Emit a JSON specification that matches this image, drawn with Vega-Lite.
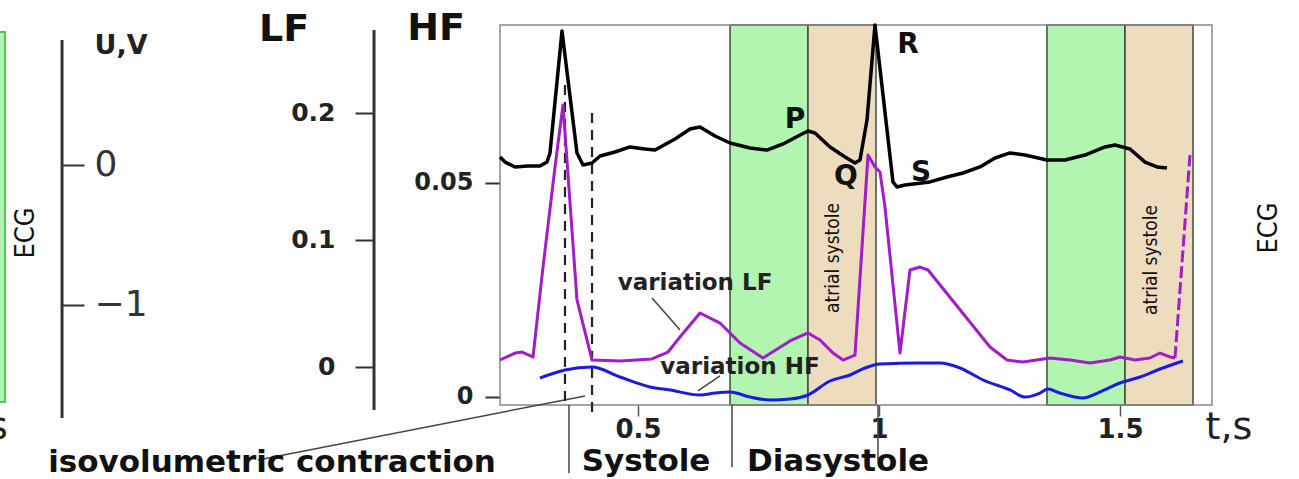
{
  "$schema": "https://vega.github.io/schema/vega-lite/v6.json",
  "width": 1299,
  "height": 479,
  "autosize": {"type": "none"},
  "padding": 0,
  "background": "white",
  "config": {"view": {"stroke": null}, "axis": {"grid": false, "domain": false}},
  "datasets": {
    "ecg": [
      {"t":0.2137,"v":0.057},{"t":0.2241,"v":0.021},{"t":0.2448,"v":-0.014},{"t":0.2718,"v":-0.007},{"t":0.2967,"v":-0.007},{"t":0.3112,"v":0.021},{"t":0.3174,"v":0.086},{"t":0.3423,"v":0.957},{"t":0.3734,"v":0.086},{"t":0.3859,"v":0.0},{"t":0.4046,"v":0.014},{"t":0.4212,"v":0.064},{"t":0.4523,"v":0.093},{"t":0.4834,"v":0.129},{"t":0.5145,"v":0.114},{"t":0.5353,"v":0.107},{"t":0.5768,"v":0.186},{"t":0.6079,"v":0.257},{"t":0.6286,"v":0.271},{"t":0.6598,"v":0.207},{"t":0.6909,"v":0.157},{"t":0.7324,"v":0.121},{"t":0.7676,"v":0.107},{"t":0.805,"v":0.157},{"t":0.8361,"v":0.214},{"t":0.8527,"v":0.243},{"t":0.8672,"v":0.229},{"t":0.8983,"v":0.129},{"t":0.9295,"v":0.057},{"t":0.9502,"v":0.014},{"t":0.9606,"v":0.036},{"t":0.9751,"v":0.321},{"t":0.9917,"v":1.0},{"t":1.029,"v":-0.121},{"t":1.0373,"v":-0.157},{"t":1.0539,"v":-0.143},{"t":1.1058,"v":-0.121},{"t":1.1411,"v":-0.086},{"t":1.1743,"v":-0.057},{"t":1.2095,"v":-0.014},{"t":1.2407,"v":0.05},{"t":1.2718,"v":0.086},{"t":1.3029,"v":0.071},{"t":1.3485,"v":0.036},{"t":1.3859,"v":0.036},{"t":1.4274,"v":0.071},{"t":1.4689,"v":0.129},{"t":1.4896,"v":0.143},{"t":1.5207,"v":0.114},{"t":1.5519,"v":0.021},{"t":1.5768,"v":-0.014},{"t":1.5975,"v":-0.021}
    ],
    "lf": [
      {"t":0.2137,"lf":0.0055},{"t":0.2448,"lf":0.011},{"t":0.2593,"lf":0.0118},{"t":0.2822,"lf":0.0079},{"t":0.3029,"lf":0.0787},{"t":0.3278,"lf":0.1575},{"t":0.3444,"lf":0.2063},{"t":0.3734,"lf":0.0528},{"t":0.4046,"lf":0.0055},{"t":0.4627,"lf":0.0047},{"t":0.529,"lf":0.0063},{"t":0.5622,"lf":0.0118},{"t":0.5871,"lf":0.0236},{"t":0.6286,"lf":0.0425},{"t":0.6701,"lf":0.0346},{"t":0.7116,"lf":0.0189},{"t":0.7593,"lf":0.0071},{"t":0.8154,"lf":0.0205},{"t":0.8527,"lf":0.0268},{"t":0.8776,"lf":0.0213},{"t":0.9046,"lf":0.011},{"t":0.9253,"lf":0.0055},{"t":0.9502,"lf":0.0094},{"t":0.9772,"lf":0.1669},{"t":0.9917,"lf":0.1575},{"t":1.0021,"lf":0.1535},{"t":1.0124,"lf":0.126},{"t":1.0436,"lf":0.011},{"t":1.0643,"lf":0.0764},{"t":1.0851,"lf":0.0787},{"t":1.1017,"lf":0.0764},{"t":1.2303,"lf":0.0157},{"t":1.2656,"lf":0.0055},{"t":1.2988,"lf":0.0039},{"t":1.3548,"lf":0.0071},{"t":1.3963,"lf":0.0055},{"t":1.4378,"lf":0.0031},{"t":1.4793,"lf":0.0055},{"t":1.5,"lf":0.0079},{"t":1.5311,"lf":0.0055},{"t":1.5622,"lf":0.0071},{"t":1.583,"lf":0.011},{"t":1.6037,"lf":0.0079},{"t":1.6141,"lf":0.0071}
    ],
    "lfDashed": [{"t":1.6141,"lf":0.0071},{"t":1.6452,"lf":0.1669}],
    "hf": [
      {"t":0.2967,"hf":0.00444},{"t":0.3485,"hf":0.00631},{"t":0.4046,"hf":0.00701},{"t":0.4627,"hf":0.00467},{"t":0.5249,"hf":0.00234},{"t":0.5664,"hf":0.00164},{"t":0.6286,"hf":0.00047},{"t":0.6598,"hf":0.00093},{"t":0.6909,"hf":0.00117},{"t":0.7324,"hf":0.0},{"t":0.7739,"hf":-0.0007},{"t":0.8154,"hf":-0.00047},{"t":0.8527,"hf":0.00047},{"t":0.8983,"hf":0.00374},{"t":0.9398,"hf":0.00514},{"t":0.971,"hf":0.00678},{"t":1.0021,"hf":0.00771},{"t":1.0851,"hf":0.00794},{"t":1.1266,"hf":0.00794},{"t":1.1681,"hf":0.00678},{"t":1.2158,"hf":0.00397},{"t":1.2718,"hf":0.00164},{"t":1.3029,"hf":0.0},{"t":1.334,"hf":0.00093},{"t":1.3506,"hf":0.00187},{"t":1.3755,"hf":0.00093},{"t":1.4232,"hf":-0.00023},{"t":1.4585,"hf":0.00117},{"t":1.5,"hf":0.00327},{"t":1.5415,"hf":0.00467},{"t":1.583,"hf":0.00654},{"t":1.6307,"hf":0.00841}
    ],
    "strip": [{"t":-0.85,"t2":-0.8133,"v":0.95,"v2":-1.693}],
    "bands": [
      {"phase":"ventricular diastole","t":0.6909,"t2":0.8527,"v":1.0,"v2":-1.714},
      {"phase":"atrial systole","t":0.8527,"t2":0.9938,"v":1.0,"v2":-1.714},
      {"phase":"ventricular diastole","t":1.3485,"t2":1.5104,"v":1.0,"v2":-1.714},
      {"phase":"atrial systole","t":1.5104,"t2":1.6515,"v":1.0,"v2":-1.714}
    ],
    "frame": [{"t":0.2137,"t2":1.6909,"v":1.0,"v2":-1.714}],
    "axisLines": [
      {"name":"U,V","t":-0.695,"v":0.893,"v2":-1.807},
      {"name":"LF","t":-0.0477,"v":0.964,"v2":-1.75}
    ],
    "markers": [
      {"name":"systole","t":0.3568,"v":-1.714,"v2":-2.2},
      {"name":"diastole","t":0.695,"v":-1.714,"v2":-2.157},
      {"name":"beat","t":0.9979,"v":-1.714,"v2":-2.107}
    ],
    "dashed": [
      {"name":"start","t":0.3485,"v":0.571,"v2":-1.736},
      {"name":"end","t":0.4046,"v":0.371,"v2":-1.807}
    ],
    "pointers": [
      {"name":"isovolumetric","t":-0.2884,"t2":0.39,"v":-2.107,"v2":-1.65},
      {"name":"variation LF","t":0.529,"t2":0.5871,"v":-0.95,"v2":-1.179},
      {"name":"variation HF","t":0.6701,"t2":0.6245,"v":-1.507,"v2":-1.614}
    ],
    "uvTitle": [{"label":"U,V","t":-0.5726,"v":0.85}],
    "titles": [{"label":"LF","t":-0.2344,"v":0.964},{"label":"HF","t":0.0809,"v":0.971}],
    "waves": [
      {"label":"P","t":0.8257,"v":0.321},
      {"label":"Q","t":0.9315,"v":-0.086},
      {"label":"R","t":1.0602,"v":0.857},
      {"label":"S","t":1.0871,"v":-0.057}
    ],
    "variation": [
      {"label":"variation LF","t":0.6183,"v":-0.843},
      {"label":"variation HF","t":0.7116,"v":-1.443}
    ],
    "phases": [
      {"label":"isovolumetric contraction","t":-0.2593,"v":-2.13},
      {"label":"Systole","t":0.5166,"v":-2.125},
      {"label":"Diasystole","t":0.9149,"v":-2.125}
    ],
    "timeUnit": [
      {"label":"t,s","t":1.7261,"v":-1.879},
      {"label":"t,s","t":-0.856,"v":-1.879}
    ],
    "ecgLabels": [
      {"label":"ECG","t":-0.7697,"v":-0.486},
      {"label":"ECG","t":1.8091,"v":-0.45}
    ],
    "atrial": [
      {"label":"atrial systole","t":0.9046,"v":-0.664},
      {"label":"atrial systole","t":1.5643,"v":-0.679}
    ]
  },
  "encoding": {
    "x": {
      "field": "t",
      "type": "quantitative",
      "scale": {"domain": [-0.8237, 1.8714], "nice": false, "zero": false},
      "axis": {
        "orient": "bottom", "offset": -74, "values": [0.5, 1, 1.5], "format": ".1~f",
        "title": null, "domain": false, "grid": false,
        "tickSize": 11, "tickWidth": 1.5, "tickColor": "#555",
        "labelFont": "DejaVu Sans", "labelFontSize": 26, "labelFontWeight": "bold",
        "labelColor": "#222", "labelPadding": 0
      }
    }
  },
  "layer": [
    {
      "encoding": {
        "y": {"field": "v", "type": "quantitative", "scale": {"domain": [-2.24286, 1.17857], "nice": false, "zero": false}, "axis": null}
      },
      "layer": [
        {"data": {"name": "strip"}, "mark": {"type": "rect", "fill": "#b2f2b2", "stroke": "#55c455", "strokeWidth": 2},
         "encoding": {"x2": {"field": "t2"}, "y2": {"field": "v2"}}},
        {"data": {"name": "bands"}, "mark": {"type": "rect", "stroke": "#3d4a3d", "strokeWidth": 1.5},
         "encoding": {"x2": {"field": "t2"}, "y2": {"field": "v2"},
           "color": {"field": "phase", "type": "nominal", "scale": {"domain": ["ventricular diastole", "atrial systole"], "range": ["#b1f5b1", "#eedcbf"]}, "legend": null}}},
        {"data": {"name": "frame"}, "mark": {"type": "rect", "filled": false, "color": "#888", "strokeWidth": 1.5},
         "encoding": {"x2": {"field": "t2"}, "y2": {"field": "v2"}}},
        {"data": {"name": "axisLines"}, "mark": {"type": "rule", "color": "#333", "strokeWidth": 3},
         "encoding": {"y2": {"field": "v2"}}},
        {"data": {"name": "markers"}, "mark": {"type": "rule", "color": "#444", "strokeWidth": 1.5},
         "encoding": {"y2": {"field": "v2"}}},
        {"data": {"name": "pointers"}, "mark": {"type": "rule", "color": "#444", "strokeWidth": 1.5},
         "encoding": {"x2": {"field": "t2"}, "y2": {"field": "v2"}}},
        {"data": {"name": "dashed"}, "mark": {"type": "rule", "color": "#222", "strokeWidth": 2.2, "strokeDash": [10, 7]},
         "encoding": {"y2": {"field": "v2"}}},
        {"data": {"name": "uvTitle"}, "mark": {"type": "text", "font": "DejaVu Sans", "fontSize": 27, "fontWeight": "bold", "color": "#222", "align": "center", "baseline": "middle"},
         "encoding": {"text": {"field": "label"}}},
        {"data": {"name": "titles"}, "mark": {"type": "text", "font": "DejaVu Sans", "fontSize": 38, "fontWeight": "bold", "color": "#111", "align": "center", "baseline": "middle"},
         "encoding": {"text": {"field": "label"}}},
        {"data": {"name": "waves"}, "mark": {"type": "text", "font": "DejaVu Sans", "fontSize": 28, "fontWeight": "bold", "color": "#111", "align": "center", "baseline": "middle"},
         "encoding": {"text": {"field": "label"}}},
        {"data": {"name": "variation"}, "mark": {"type": "text", "font": "DejaVu Sans", "fontSize": 23, "fontWeight": "bold", "color": "#222", "align": "center", "baseline": "middle"},
         "encoding": {"text": {"field": "label"}}},
        {"data": {"name": "phases"}, "mark": {"type": "text", "font": "DejaVu Sans", "fontSize": 31, "fontWeight": "bold", "color": "#111", "align": "center", "baseline": "middle"},
         "encoding": {"text": {"field": "label"}}},
        {"data": {"name": "timeUnit"}, "mark": {"type": "text", "font": "DejaVu Sans", "fontSize": 38, "fontWeight": "normal", "color": "#222", "align": "center", "baseline": "middle"},
         "encoding": {"text": {"field": "label"}}},
        {"data": {"name": "ecgLabels"}, "mark": {"type": "text", "font": "DejaVu Sans Condensed", "fontSize": 27, "fontWeight": "normal", "color": "#111", "align": "center", "baseline": "middle", "angle": 270},
         "encoding": {"text": {"field": "label"}}},
        {"data": {"name": "atrial"}, "mark": {"type": "text", "font": "DejaVu Sans Condensed", "fontSize": 19, "fontWeight": "normal", "color": "#111", "align": "center", "baseline": "middle", "angle": 270},
         "encoding": {"text": {"field": "label"}}}
      ]
    },
    {
      "data": {"name": "ecg"},
      "mark": {"type": "line", "color": "#000", "strokeWidth": 3.5, "strokeJoin": "round"},
      "encoding": {
        "y": {"field": "v", "type": "quantitative", "scale": {"domain": [-2.24286, 1.17857], "nice": false, "zero": false},
          "axis": {"orient": "right", "offset": -1237, "values": [0, -1], "format": ".0f", "title": null, "domain": false, "grid": false,
            "tickSize": 22, "tickWidth": 2, "tickColor": "#333", "labelFont": "DejaVu Sans", "labelFontSize": 36,
            "labelFontWeight": "normal", "labelColor": "#333", "labelPadding": 10}}
      }
    },
    {
      "data": {"name": "lf"},
      "mark": {"type": "line", "color": "#a21cc8", "strokeWidth": 3, "strokeJoin": "round"},
      "encoding": {
        "y": {"field": "lf", "type": "quantitative", "scale": {"domain": [-0.088189, 0.288976], "nice": false, "zero": false},
          "axis": {"orient": "left", "offset": -374, "values": [0, 0.1, 0.2], "format": ".1~f", "title": null, "domain": false, "grid": false,
            "tickSize": 19, "tickWidth": 2, "tickColor": "#333", "labelFont": "DejaVu Sans", "labelFontSize": 25,
            "labelFontWeight": "bold", "labelColor": "#222", "labelPadding": 20}}
      }
    },
    {
      "data": {"name": "lfDashed"},
      "mark": {"type": "line", "color": "#a21cc8", "strokeWidth": 3, "strokeDash": [12, 4]},
      "encoding": {
        "y": {"field": "lf", "type": "quantitative", "scale": {"domain": [-0.088189, 0.288976], "nice": false, "zero": false}, "axis": null}
      }
    },
    {
      "data": {"name": "hf"},
      "mark": {"type": "line", "color": "#1a1ae0", "strokeWidth": 3, "interpolate": "monotone"},
      "encoding": {
        "y": {"field": "hf", "type": "quantitative", "scale": {"domain": [-0.019159, 0.092757], "nice": false, "zero": false},
          "axis": {"orient": "left", "offset": -500, "values": [0, 0.05], "format": ".2~f", "title": null, "domain": false, "grid": false,
            "tickSize": 15, "tickWidth": 2, "tickColor": "#333", "labelFont": "DejaVu Sans", "labelFontSize": 24,
            "labelFontWeight": "bold", "labelColor": "#222", "labelPadding": 12}}
      }
    }
  ],
  "resolve": {"scale": {"y": "independent"}, "axis": {"y": "independent"}}
}
